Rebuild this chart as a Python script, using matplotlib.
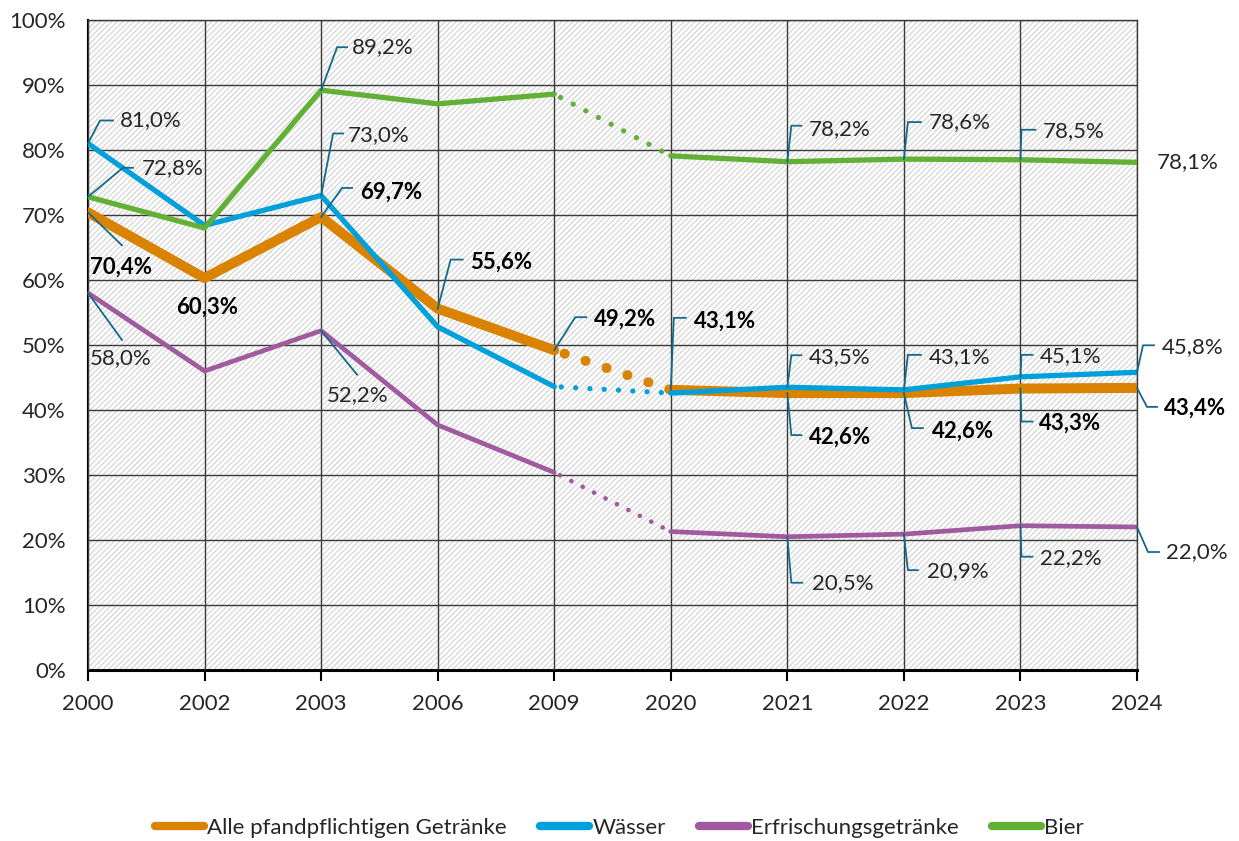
import matplotlib
matplotlib.use('Agg')
import matplotlib.pyplot as plt
from matplotlib.patches import Rectangle
from matplotlib.lines import Line2D
from matplotlib.transforms import IdentityTransform

plt.rcParams['font.family'] = ['Lato', 'DejaVu Sans']
plt.rcParams['hatch.linewidth'] = 0.9

years = ['2000', '2002', '2003', '2006', '2009', '2020', '2021', '2022', '2023', '2024']
alle = [70.4, 60.3, 69.7, 55.6, 49.2, 43.1, 42.6, 42.6, 43.3, 43.4]
waesser = [81.0, 68.4, 73.0, 52.8, 43.6, 42.6, 43.5, 43.1, 45.1, 45.8]
erfr = [58.0, 46.0, 52.2, 37.7, 30.4, 21.3, 20.5, 20.9, 22.2, 22.0]
bier = [72.8, 68.0, 89.2, 87.1, 88.6, 79.1, 78.2, 78.6, 78.5, 78.1]

names = ['Alle pfandpflichtigen Getränke', 'Wässer', 'Erfrischungsgetränke', 'Bier']
colors = ['#d98300', '#00a0da', '#a05a9e', '#62b035']
widths = [7.2, 3.8, 3.4, 3.8]
series = [alle, waesser, erfr, bier]

# which points carry a label: (series no, index, bold, text dx, text dy, ha, leader vertices) in pixels, y down
labels = [
    (3, 0, False, 54, -29, 'left', [(35, -29), (45, -29)]),
    (1, 0, False, 32, -23, 'left', [(12, -23), (25, -23)]),
    (0, 0, True, 33, 55, 'center', [(34, 33)]),
    (2, 0, False, 33, 65, 'center', [(34, 47)]),
    (0, 1, True, 3, 29, 'center', []),
    (3, 2, False, 31, -43, 'left', [(16, -43), (26, -43)]),
    (1, 2, False, 27, -60, 'left', [(12, -62), (22, -62)]),
    (0, 2, True, 39, -25, 'left', [(21, -29), (31, -29)]),
    (2, 2, False, 36, 64, 'center', [(36, 44)]),
    (0, 3, True, 32, -46, 'left', [(13, -49), (25, -49)]),
    (0, 4, True, 40, -31, 'left', [(21, -33), (32, -33)]),
    (0, 5, True, 23, -69, 'left', [(3, -72), (15, -72)]),
    (3, 6, False, 21, -33, 'left', [(4, -36), (14, -36)]),
    (1, 6, False, 21, -30, 'left', [(4, -32), (14, -32)]),
    (0, 6, True, 22, 44, 'left', [(4, 42), (14, 42)]),
    (2, 6, False, 25, 46, 'left', [(4, 46), (15, 46)]),
    (3, 7, False, 25, -37, 'left', [(4, -37), (17, -37)]),
    (1, 7, False, 25, -33, 'left', [(4, -35), (17, -35)]),
    (0, 7, True, 28, 38, 'left', [(8, 35), (19, 35)]),
    (2, 7, False, 23, 37, 'left', [(4, 36), (14, 36)]),
    (3, 8, False, 22, -29, 'left', [(1, -30), (15, -30)]),
    (1, 8, False, 19, -21, 'left', [(1, -22), (12, -22)]),
    (0, 8, True, 19, 35, 'left', [(1, 33), (12, 33)]),
    (2, 8, False, 20, 32, 'left', [(1, 31), (12, 31)]),
    (3, 9, False, 20, 0, 'left', []),
    (1, 9, False, 25, -25, 'left', [(6, -27), (17, -27)]),
    (0, 9, True, 27, 20, 'left', [(10, 19), (20, 19)]),
    (2, 9, False, 29, 25, 'left', [(11, 25), (22, 25)]),
]

fig = plt.figure(figsize=(12.39, 8.41), dpi=100)
ax = fig.add_axes([88 / 1239, 1 - 670 / 841, (1137 - 88) / 1239, 650 / 841])

ax.add_patch(Rectangle((0, 0), 1, 1, transform=ax.transAxes, facecolor='white',
                       hatch='//////', edgecolor='#d6d6d6', lw=0, zorder=0))
ax.set_xlim(0, len(years) - 1)
ax.set_ylim(0, 100)
ax.set_xticks(range(len(years)))
ax.set_xticklabels(years)
ax.set_yticks(range(0, 101, 10))
ax.set_yticklabels([str(v) + '%' for v in range(0, 101, 10)])
ax.grid(True, color='#3a3a3a', lw=1.0, zorder=1)
ax.set_axisbelow(False)
ax.tick_params(axis='y', length=0, pad=16, labelsize=16, labelcolor='#262626')
ax.tick_params(axis='x', length=8, width=1.5, pad=9, labelsize=16, labelcolor='#262626', direction='out')
for s in ['top', 'right']:
    ax.spines[s].set_linewidth(1.0)
    ax.spines[s].set_color('#3a3a3a')
ax.spines['left'].set_linewidth(1.5)
ax.spines['bottom'].set_linewidth(2.2)

n_old = 5
for k in range(4):
    y = series[k]
    x = list(range(len(years)))
    z = 3 + k
    ax.plot(x[:n_old], y[:n_old], color=colors[k], lw=widths[k], solid_joinstyle='round',
            solid_capstyle='round', zorder=z)
    ax.plot(x[n_old:], y[n_old:], color=colors[k], lw=widths[k], solid_joinstyle='round',
            solid_capstyle='round', zorder=z)
    gap = 2.7 if k != 0 else 2.2
    ax.plot(x[n_old - 1:n_old + 1], y[n_old - 1:n_old + 1], color=colors[k], lw=widths[k],
            linestyle=(-gap / 2, (0.01, gap)), dash_capstyle='round', zorder=z)

fig.canvas.draw()
leader_col = '#16698b'
for k, i, bold, dx, dy, ha, leader in labels:
    v = series[k][i]
    px, py = ax.transData.transform((i, v))
    if leader:
        xs = [px] + [px + a for a, b in leader]
        ys = [py] + [py - b for a, b in leader]
        fig.add_artist(Line2D(xs, ys, transform=IdentityTransform(), color=leader_col,
                              lw=1.3, zorder=10))
    txt = ('%.1f' % v).replace('.', ',') + '%'
    ax.annotate(txt, (i, v), xytext=(dx, -dy), textcoords='offset pixels', ha=ha, va='center',
                fontsize=16, fontweight='bold' if bold else 'normal',
                color='black' if bold else '#262626', zorder=11, annotation_clip=False)

handles = [Line2D([], [], color=colors[k], lw=6, solid_capstyle='round') for k in range(4)]
fig.legend(handles, names, loc='center', bbox_to_anchor=(0.5, 1 - 828 / 841), ncol=4,
           frameon=False, fontsize=16, handlelength=2.2, handletextpad=0.15, columnspacing=1.5,
           labelcolor='#262626')

fig.savefig('out.png', dpi=100)
